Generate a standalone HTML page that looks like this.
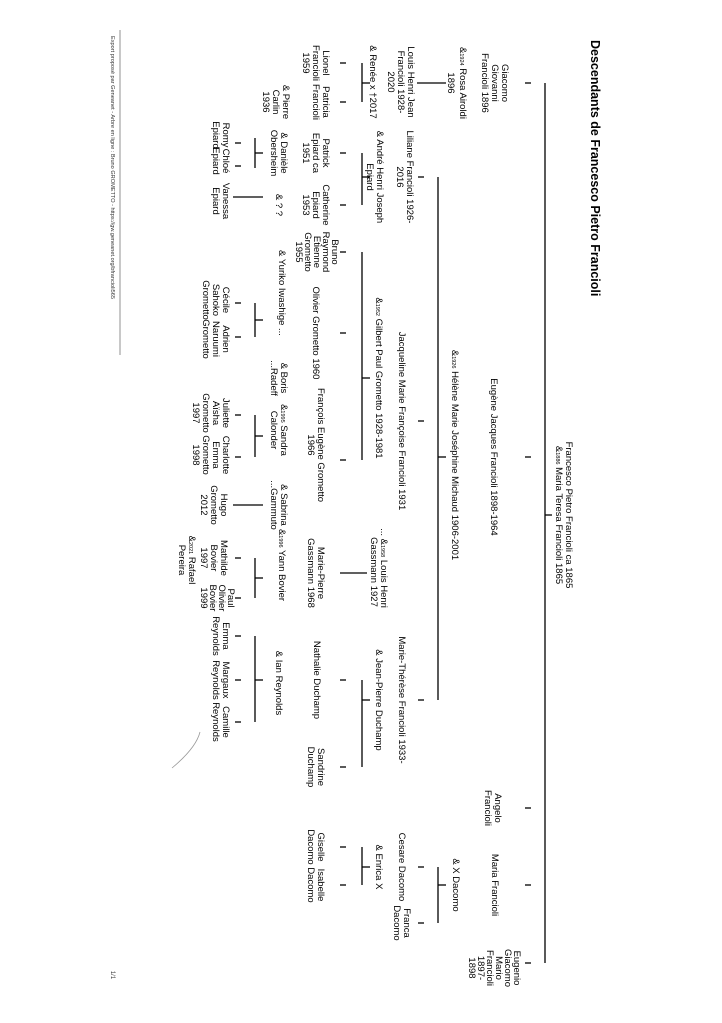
<!DOCTYPE html>
<html><head><meta charset="utf-8"><style>
html,body{margin:0;padding:0;background:#fff;}
svg{display:block;}
text{font-family:"Liberation Sans",Arial,sans-serif;font-size:9.5px;fill:#000;text-anchor:middle;}
.s{font-size:5.5px;}
line{stroke:#000;stroke-width:1.3;}
</style></head><body>
<svg width="722" height="1023" viewBox="0 0 722 1023" xmlns="http://www.w3.org/2000/svg">
<g transform="translate(722 0) rotate(90)">
<text x="40" y="131" style="text-anchor:start;font-size:12.5px;font-weight:bold">Descendants de Francesco Pietro Francioli</text>
<text x="515" y="156">Francesco Pietro Francioli ca 1865</text>
<text x="515" y="166">&amp;<tspan class="s">1886</tspan> Maria Teresa Francioli 1865</text>
<line x1="515" y1="170" x2="515" y2="177"/>
<line x1="83" y1="177" x2="963" y2="177"/>
<line x1="83" y1="191" x2="83" y2="197"/>
<line x1="457" y1="191" x2="457" y2="197"/>
<line x1="808" y1="191" x2="808" y2="197"/>
<line x1="885" y1="191" x2="885" y2="197"/>
<line x1="963" y1="191" x2="963" y2="197"/>
<text x="83" y="220">Giacomo</text><text x="83" y="230">Giovanni</text><text x="83" y="240">Francioli 1896</text>
<text x="457" y="231">Eugène Jacques Francioli 1898-1964</text>
<text x="808" y="227">Angelo</text><text x="808" y="237">Francioli</text>
<text x="885" y="230">Maria Francioli</text>
<text x="968" y="208">Eugenio</text><text x="968" y="217">Giacomo</text><text x="968" y="226">Mario</text><text x="968" y="235">Francioli</text><text x="968" y="244">1897-</text><text x="968" y="253">1898</text>
<text x="83" y="262">&amp;<tspan class="s">1924</tspan> Rosa Airoldi</text><text x="83" y="274">1896</text>
<text x="455" y="270">&amp;<tspan class="s">1926</tspan> Hélène Marie Joséphine Michaud 1906-2001</text>
<text x="885" y="269">&amp; X Dacomo</text>
<line x1="83" y1="276" x2="83" y2="305"/>
<line x1="457" y1="276" x2="457" y2="284"/>
<line x1="177" y1="284" x2="700" y2="284"/>
<line x1="885" y1="276" x2="885" y2="284"/>
<line x1="867" y1="284" x2="923" y2="284"/>
<line x1="177" y1="298" x2="177" y2="304"/>
<line x1="421" y1="298" x2="421" y2="304"/>
<line x1="700" y1="298" x2="700" y2="304"/>
<line x1="867" y1="298" x2="867" y2="304"/>
<line x1="923" y1="298" x2="923" y2="304"/>
<text x="82" y="314">Louis Henri Jean</text><text x="82" y="324">Francioli 1928-</text><text x="82" y="334">2020</text>
<text x="177" y="315">Liliane Francioli 1926-</text><text x="177" y="325">2016</text>
<text x="421" y="323">Jacqueline Marie Françoise Francioli 1931</text>
<text x="700" y="323">Marie-Thérèse Francioli 1933-</text>
<text x="867" y="323">Cesare Dacomo</text>
<text x="923" y="318">Franca</text><text x="923" y="328">Dacomo</text>
<text x="82" y="352">&amp; Renée x †2017</text>
<text x="177" y="345">&amp; André Henri Joseph</text><text x="177" y="355">Epiard</text>
<text x="378" y="346">&amp;<tspan class="s">1952</tspan> Gilbert Paul Grometto 1928-1981</text>
<text x="568" y="341">... &amp;<tspan class="s">1958</tspan> Louis Henri</text><text x="572" y="351">Gassmann 1927</text>
<text x="700" y="346">&amp; Jean-Pierre Duchamp</text>
<text x="867" y="346">&amp; Enrica X</text>
<line x1="83" y1="352" x2="83" y2="360"/><line x1="63" y1="360" x2="102" y2="360"/>
<line x1="177" y1="352" x2="177" y2="360"/><line x1="153" y1="360" x2="205" y2="360"/>
<line x1="378" y1="352" x2="378" y2="360"/><line x1="252" y1="360" x2="460" y2="360"/>
<line x1="573" y1="355" x2="573" y2="382"/>
<line x1="700" y1="352" x2="700" y2="360"/><line x1="680" y1="360" x2="767" y2="360"/>
<line x1="867" y1="352" x2="867" y2="360"/><line x1="847" y1="360" x2="885" y2="360"/>
<line x1="63" y1="376" x2="63" y2="382"/><line x1="102" y1="376" x2="102" y2="382"/>
<line x1="153" y1="376" x2="153" y2="382"/><line x1="205" y1="376" x2="205" y2="382"/>
<line x1="252" y1="376" x2="252" y2="382"/><line x1="333" y1="376" x2="333" y2="382"/>
<line x1="460" y1="376" x2="460" y2="382"/>
<line x1="680" y1="376" x2="680" y2="382"/><line x1="767" y1="376" x2="767" y2="382"/>
<line x1="847" y1="376" x2="847" y2="382"/><line x1="885" y1="376" x2="885" y2="382"/>
<text x="63" y="399">Lionel</text><text x="63" y="409">Francioli</text><text x="63" y="419">1959</text>
<text x="102" y="399">Patricia</text><text x="102" y="409">Francioli</text>
<text x="153" y="399">Patrick</text><text x="153" y="409">Epiard ca</text><text x="153" y="419">1951</text>
<text x="205" y="399">Catherine</text><text x="205" y="409">Epiard</text><text x="205" y="419">1953</text>
<text x="252" y="390">Bruno</text><text x="252" y="399">Raymond</text><text x="252" y="408">Etienne</text><text x="252" y="417">Grometto</text><text x="252" y="426">1955</text>
<text x="333" y="409">Olivier Grometto 1960</text>
<text x="445" y="404">François Eugène Grometto</text><text x="445" y="414">1966</text>
<text x="573" y="404">Marie-Pierre</text><text x="573" y="414">Gassmann 1968</text>
<text x="680" y="408">Nathalie Duchamp</text>
<text x="767" y="404">Sandrine</text><text x="767" y="414">Duchamp</text>
<text x="847" y="404">Giselle</text><text x="847" y="414">Dacomo</text>
<text x="885" y="404">Isabelle</text><text x="885" y="414">Dacomo</text>
<text x="102" y="439">&amp; Pierre</text><text x="102" y="449">Carlin</text><text x="102" y="459">1936</text>
<text x="153" y="441">&amp; Danièle</text><text x="153" y="451">Obersheim</text>
<text x="205" y="446">&amp; ? ?</text>
<text x="293" y="443">&amp; Yuriko Iwashige ...</text>
<text x="378" y="441">&amp; Boris</text><text x="378" y="451">...Radeff</text>
<text x="430" y="441">&amp;<tspan class="s">1995</tspan> Sandra</text><text x="430" y="451">Calonder</text>
<text x="505" y="441">&amp; Sabrina</text><text x="505" y="451">...Gammuto</text>
<text x="565" y="443">&amp;<tspan class="s">1996</tspan> Yann Bovier</text>
<text x="683" y="446">&amp; Ian Reynolds</text>
<line x1="153" y1="459" x2="153" y2="467"/><line x1="138" y1="467" x2="168" y2="467"/>
<line x1="197" y1="459" x2="197" y2="489"/>
<line x1="320" y1="459" x2="320" y2="467"/><line x1="303" y1="467" x2="337" y2="467"/>
<line x1="436" y1="459" x2="436" y2="467"/><line x1="415" y1="467" x2="457" y2="467"/>
<line x1="505" y1="459" x2="505" y2="489"/>
<line x1="578" y1="459" x2="578" y2="467"/><line x1="558" y1="467" x2="598" y2="467"/>
<line x1="680" y1="459" x2="680" y2="467"/><line x1="636" y1="467" x2="722" y2="467"/>
<line x1="143" y1="481" x2="143" y2="487"/><line x1="166" y1="481" x2="166" y2="487"/>
<line x1="303" y1="481" x2="303" y2="487"/><line x1="337" y1="481" x2="337" y2="487"/>
<line x1="415" y1="481" x2="415" y2="487"/><line x1="457" y1="481" x2="457" y2="487"/>
<line x1="558" y1="481" x2="558" y2="487"/><line x1="598" y1="481" x2="598" y2="487"/>
<line x1="636" y1="481" x2="636" y2="487"/><line x1="680" y1="481" x2="680" y2="487"/><line x1="722" y1="481" x2="722" y2="487"/>
<text x="135" y="499">Romy</text><text x="135" y="509">Epiard</text>
<text x="161" y="499">Chloé</text><text x="161" y="509">Epiard</text>
<text x="201" y="499">Vanessa</text><text x="201" y="509">Epiard</text>
<text x="300" y="499">Cécile</text><text x="300" y="509">Sahoko</text><text x="300" y="519">Grometto</text>
<text x="339" y="499">Adrien</text><text x="339" y="509">Naruumi</text><text x="339" y="519">Grometto</text>
<text x="413" y="499">Juliette</text><text x="413" y="509">Aïsha</text><text x="413" y="519">Grometto</text><text x="413" y="529">1997</text>
<text x="455" y="499">Charlotte</text><text x="455" y="509">Emma</text><text x="455" y="519">Grometto</text><text x="455" y="529">1998</text>
<text x="505" y="501">Hugo</text><text x="505" y="511">Grometto</text><text x="505" y="521">2012</text>
<text x="558" y="501">Mathilde</text><text x="558" y="511">Bovier</text><text x="558" y="521">1997</text>
<text x="560" y="533">&amp;<tspan class="s">2021</tspan> Rafael</text><text x="560" y="543">Pereira</text>
<text x="598" y="494">Paul</text><text x="598" y="503">Olivier</text><text x="598" y="512">Bovier</text><text x="598" y="521">1999</text>
<text x="636" y="499">Emma</text><text x="636" y="509">Reynolds</text>
<text x="680" y="499">Margaux</text><text x="680" y="509">Reynolds</text>
<text x="722" y="499">Camille</text><text x="722" y="509">Reynolds</text>
<path d="M732 522 Q748 526 768 550" fill="none" stroke="#999" stroke-width="0.8"/>
<line x1="30" y1="602" x2="355" y2="602" style="stroke:#777;stroke-width:0.8"/>
<text x="36" y="611" style="text-anchor:start;font-size:5.6px;fill:#333">Export proposé par Geneanet - Arbre en ligne : Bruno GROMETTO - https://gw.geneanet.org/bfrancioli565</text>
<text x="975" y="611" style="font-size:6px;fill:#333">1/1</text>
</g>
</svg>
</body></html>
